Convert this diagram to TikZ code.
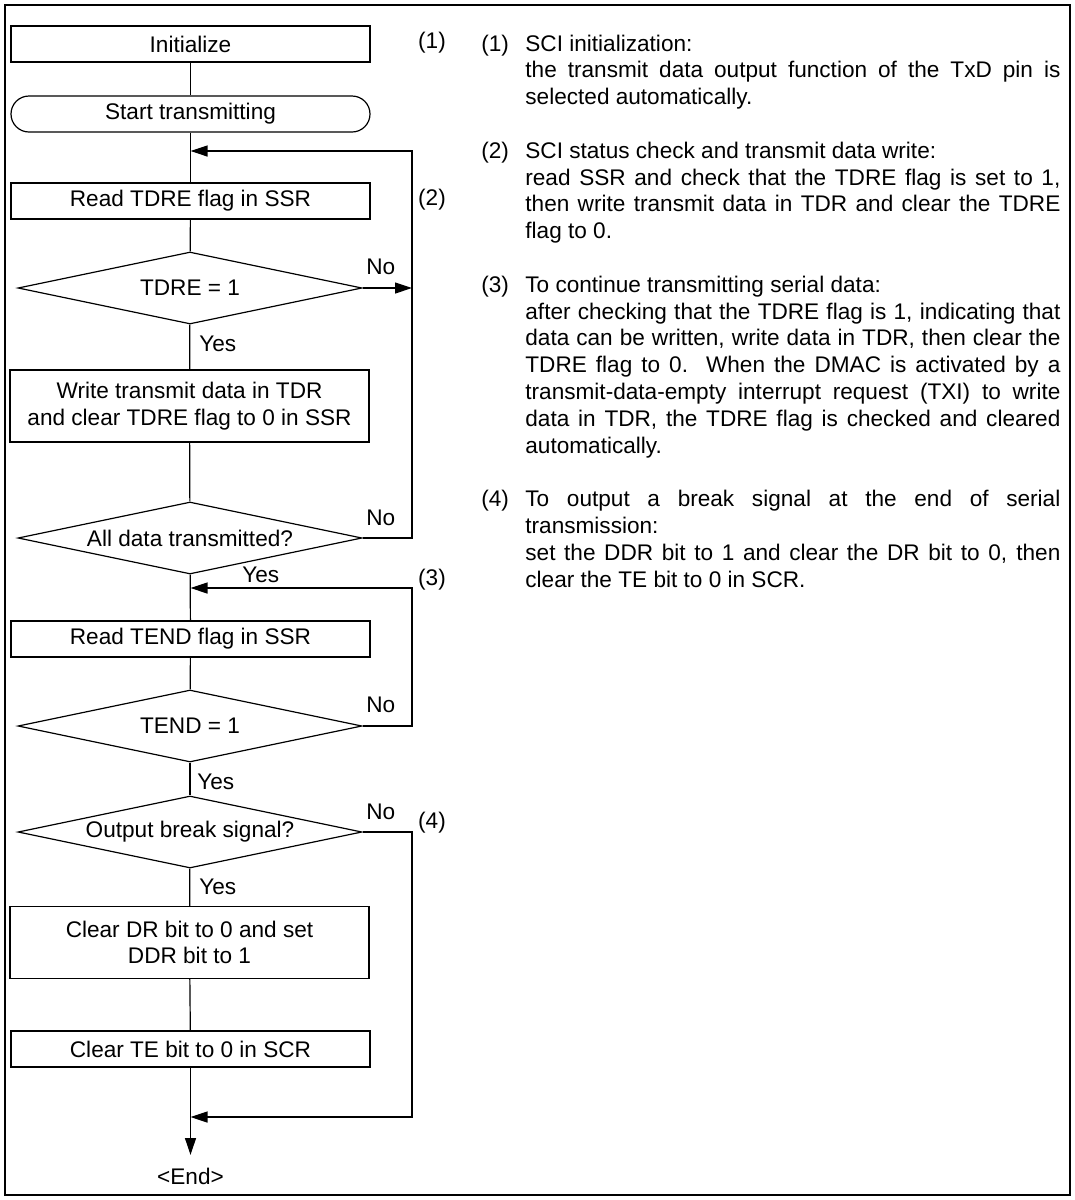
\documentclass[tikz,border=0pt]{standalone}
\usepackage{fontspec}
\setmainfont{Liberation Sans}
\usetikzlibrary{shapes.geometric,arrows.meta}
\newcommand\jl[1]{\makebox[267.5pt][s]{#1}}
\begin{document}
\begin{tikzpicture}[x=0.5pt,y=-0.5pt,
  every node/.style={font=\fontsize{11.3}{13.4}\selectfont, inner sep=0pt},
  box/.style={draw, line width=0.6pt, minimum width=179.5pt, minimum height=18pt, align=center},
  tallbox/.style={box, minimum height=36pt},
  term/.style={box, rounded corners=9pt},
  dec/.style={draw, line width=0.6pt, shape=diamond, aspect=4.78, minimum width=172pt, minimum height=36pt},
  flow/.style={line width=0.6pt},
  arr/.style={flow, -{Triangle[length=8.5pt,width=5.5pt]}},
  lbl/.style={anchor=west},
  txt/.style={anchor=base west},
]
\useasboundingbox (0,0) rectangle (1075,1200);
\draw[line width=1.2pt] (5,5) rectangle (1070,1195);

% flowchart nodes
\node[box] (init) at (190.5,44) {Initialize};
\node[term] (start) at (190.5,114) {Start transmitting};
\node[box] (rtdre) at (190.5,201) {Read TDRE flag in SSR};
\node[dec] (d1) at (190,288) {TDRE = 1};
\node[tallbox] (wr) at (189.5,406) {Write transmit data in TDR\\and clear TDRE flag to 0 in SSR};
\node[dec] (d2) at (190,538) {All data transmitted?};
\node[box] (rtend) at (190.5,639) {Read TEND flag in SSR};
\node[dec] (d3) at (190,726) {TEND = 1};
\node[dec] (d4) at (190,832) {Output break signal?};
\node[tallbox] (cdr) at (189.5,942.5) {Clear DR bit to 0 and set\\DDR bit to 1};
\node[box] (cte) at (190.5,1049) {Clear TE bit to 0 in SCR};
\node (endn) at (190.5,1176) {<End>};

% junctions
\coordinate (j1) at (190.5,151);
\coordinate (r1) at (412,151);
\coordinate (j2) at (190.5,588);
\coordinate (r2) at (412,588);
\coordinate (j3) at (190.5,1117);
\coordinate (r3) at (412,1117);
\coordinate (tip) at (190.5,1155);

% connectors
\draw[flow] (init) -- (start);
\draw[flow] (start) -- (rtdre);
\draw[flow] (rtdre) -- (d1);
\draw[flow] (d1) -- (wr);
\draw[flow] (wr) -- (d2);
\draw[flow] (d2) -- (rtend);
\draw[flow] (rtend) -- (d3);
\draw[flow] (d3) -- (d4);
\draw[flow] (d4) -- (cdr);
\draw[flow] (cdr) -- (cte);
\draw[arr] (cte) -- (tip);
\draw[arr] (d1.east) -- (d1.east -| r1);
\draw[arr] (d2.east) -- (d2.east -| r1) -- (r1) -- (j1);
\draw[arr] (d3.east) -- (d3.east -| r2) -- (r2) -- (j2);
\draw[arr] (d4.east) -- (d4.east -| r3) -- (r3) -- (j3);

% branch labels
\node[lbl] (y1) at (199,344) {Yes};
\node[lbl] (y2) at (242,575) {Yes};
\node[lbl] (y3) at (197,782) {Yes};
\node[lbl] (y4) at (199,887) {Yes};
\node[lbl] (n1) at (366,267) {No};
\node[lbl] (n2) at (366,518) {No};
\node[lbl] (n3) at (366,705) {No};
\node[lbl] (n4) at (366,812) {No};

% step markers
\node (s1) at (432,43) {(1)};
\node (s2) at (432,200) {(2)};
\node (s3) at (432,580) {(3)};
\node (s4) at (432,823) {(4)};

% notes
\node[txt] (k1) at (481,51) {(1)};
\node[txt] (t1) at (525,51) {\parbox[t]{267.5pt}{SCI initialization:\\
\jl{the transmit data output function of the TxD pin is}\\
selected automatically.}};
\node[txt] (k2) at (481,158.2) {(2)};
\node[txt] (t2) at (525,158.2) {\parbox[t]{267.5pt}{SCI status check and transmit data write:\\
\jl{read SSR and check that the TDRE flag is set to 1,}\\
\jl{then write transmit data in TDR and clear the TDRE}\\
flag to 0.}};
\node[txt] (k3) at (481,292.2) {(3)};
\node[txt] (t3) at (525,292.2) {\parbox[t]{267.5pt}{To continue transmitting serial data:\\
\jl{after checking that the TDRE flag is 1, indicating that}\\
\jl{data can be written, write data in TDR, then clear the}\\
\jl{TDRE flag to 0.\ \ When the DMAC is activated by a}\\
\jl{transmit-data-empty interrupt request (TXI) to write}\\
\jl{data in TDR, the TDRE flag is checked and cleared}\\
automatically.}};
\node[txt] (k4) at (481,506.6) {(4)};
\node[txt] (t4) at (525,506.6) {\parbox[t]{267.5pt}{\jl{To output a break signal at the end of serial}\\
transmission:\\
\jl{set the DDR bit to 1 and clear the DR bit to 0, then}\\
clear the TE bit to 0 in SCR.}};
\end{tikzpicture}
\end{document}
